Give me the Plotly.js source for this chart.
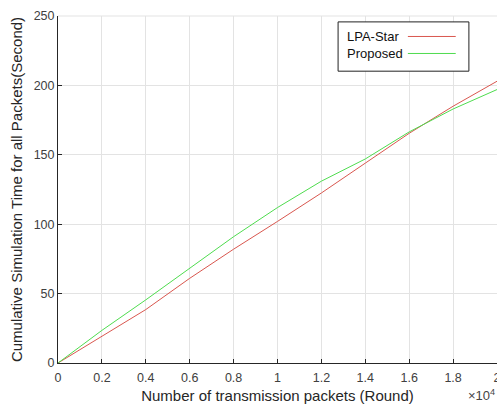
<!DOCTYPE html>
<html>
<head>
<meta charset="utf-8">
<script src="https://cdn.plot.ly/plotly-3.0.1.min.js"></script>
<style>html,body{margin:0;padding:0;background:#fff;}#chart{width:497px;height:405px;}</style>
</head>
<body>
<div id="chart"></div>
<script>
// Data
var packets = [0, 2000, 4000, 6000, 8000, 10000, 12000, 14000, 16000, 18000, 20000];
var lpaStar = [0, 19.5, 38.5, 61, 82, 102, 122.5, 144, 165.5, 185, 203];
var proposed = [0, 23.5, 45.5, 68.5, 91, 112, 131, 147, 166.5, 183, 197];
var seriesNames = ['LPA-Star', 'Proposed'];
var seriesColors = ['#d9574f', '#4fdc4f'];
var xTickVals = [0, 2000, 4000, 6000, 8000, 10000, 12000, 14000, 16000, 18000, 20000];
var xTickText = ['0', '0.2', '0.4', '0.6', '0.8', '1', '1.2', '1.4', '1.6', '1.8', '2'];
var yTickVals = [0, 50, 100, 150, 200, 250];

var FONT = 'Liberation Sans, Arial, sans-serif';

var traces = [
  {x: packets, y: lpaStar, name: seriesNames[0], mode: 'lines', line: {color: seriesColors[0], width: 1}},
  {x: packets, y: proposed, name: seriesNames[1], mode: 'lines', line: {color: seriesColors[1], width: 1}}
];

// custom MATLAB-style legend (text left, line sample right)
var L = {x0: 0.638, x1: 0.936, y0: 0.841, y1: 0.983};
var rowY = [0.941, 0.892];
var shapes = [
  {type: 'line', xref: 'paper', yref: 'paper', x0: 0, x1: 1, y0: 1, y1: 1, line: {color: '#e3e3e3', width: 1}},
  {type: 'rect', xref: 'paper', yref: 'paper', x0: L.x0, x1: L.x1, y0: L.y0, y1: L.y1, fillcolor: '#ffffff', line: {color: '#222222', width: 1}}
];
var annotations = [];
for (var i = 0; i < seriesNames.length; i++) {
  shapes.push({type: 'line', xref: 'paper', yref: 'paper', x0: 0.797, x1: 0.906, y0: rowY[i], y1: rowY[i], line: {color: seriesColors[i], width: 1}});
  annotations.push({xref: 'paper', yref: 'paper', x: 0.653, y: rowY[i], xanchor: 'left', yanchor: 'middle', showarrow: false, text: seriesNames[i], font: {family: FONT, size: 13, color: '#111111'}});
}
annotations.push({xref: 'paper', yref: 'paper', x: 1.0, y: -0.121, xanchor: 'right', yanchor: 'bottom', showarrow: false, text: '\u00d710<sup>4</sup>', font: {family: FONT, size: 13, color: '#444444'}});

var layout = {
  width: 497, height: 405,
  margin: {l: 58, r: 0, t: 16, b: 42},
  paper_bgcolor: '#ffffff', plot_bgcolor: '#ffffff',
  showlegend: false,
  font: {family: FONT, size: 12.5, color: '#404040'},
  xaxis: {
    range: [0, 20000], tickmode: 'array', tickvals: xTickVals, ticktext: xTickText,
    showgrid: true, gridcolor: '#e3e3e3', gridwidth: 1, zeroline: false,
    showline: true, linecolor: '#262626', linewidth: 1,
    ticks: 'inside', ticklen: 4, tickcolor: '#262626',
    ticklabeloverflow: 'allow', ticklabelstandoff: 3,
    tickfont: {family: FONT, size: 12.5, color: '#404040'},
    title: {text: 'Number of transmission packets (Round)', font: {family: FONT, size: 15, color: '#262626'}, standoff: 6}
  },
  yaxis: {
    range: [0, 250], tickmode: 'array', tickvals: yTickVals,
    showgrid: true, gridcolor: '#e3e3e3', gridwidth: 1, zeroline: false,
    showline: true, linecolor: '#262626', linewidth: 1,
    ticks: 'inside', ticklen: 4, tickcolor: '#262626',
    tickfont: {family: FONT, size: 12.5, color: '#404040'},
    title: {text: 'Cumulative Simulation Time for all Packets(Second)', font: {family: FONT, size: 15, color: '#262626'}, standoff: 7}
  },
  shapes: shapes,
  annotations: annotations
};

Plotly.newPlot('chart', traces, layout, {staticPlot: true, displayModeBar: false});
</script>
</body>
</html>
